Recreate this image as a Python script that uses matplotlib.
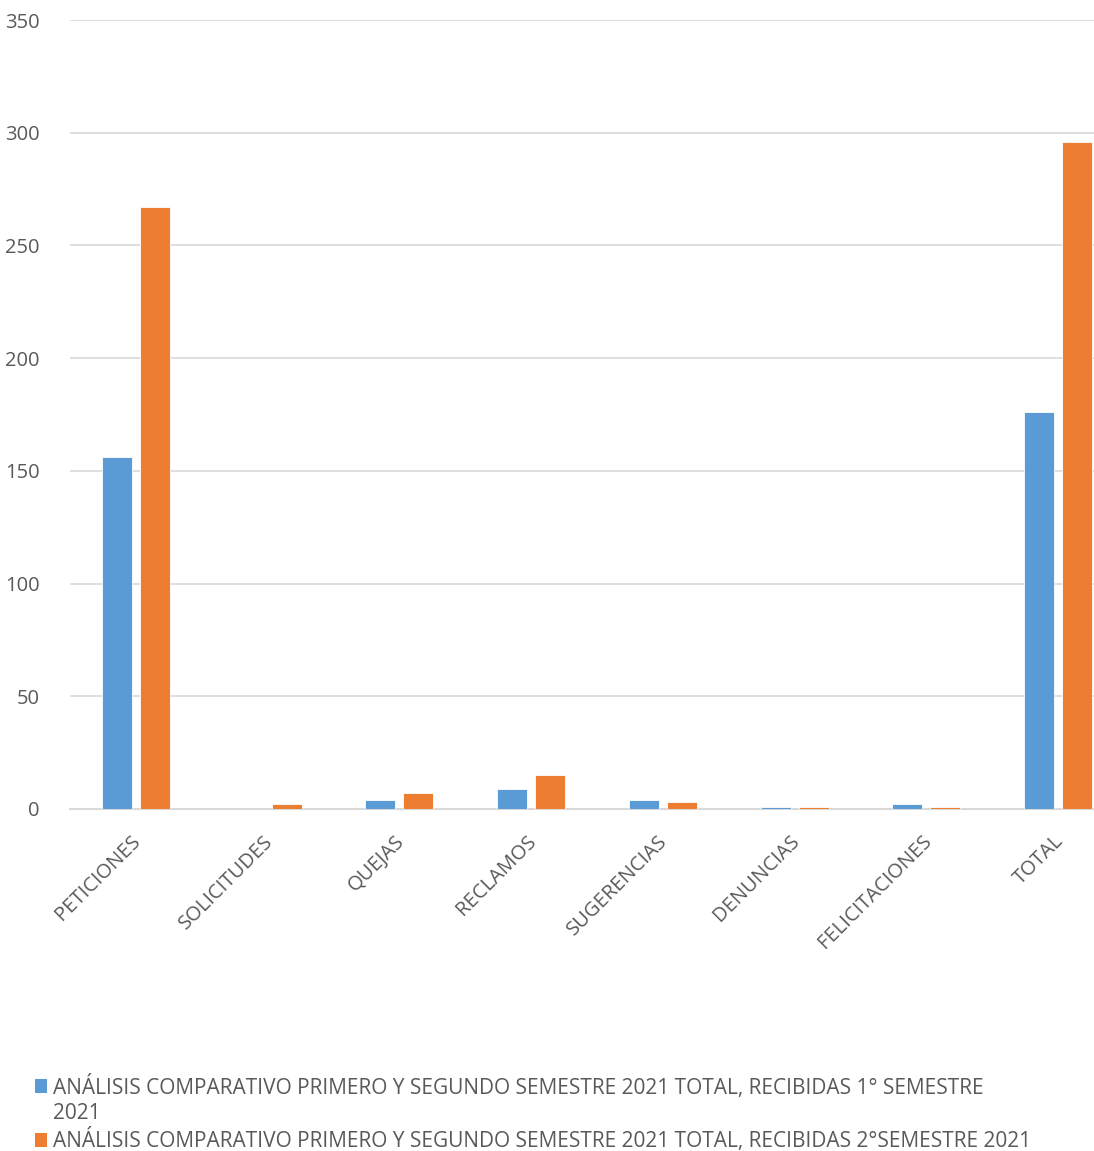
import numpy as np
import matplotlib.pyplot as plt
import matplotlib.transforms as mtransforms
from matplotlib.patches import Patch

categorias = ['PETICIONES', 'SOLICITUDES', 'QUEJAS', 'RECLAMOS', 'SUGERENCIAS',
              'DENUNCIAS', 'FELICITACIONES', 'TOTAL']
primer_semestre = [156, 0, 4, 9, 4, 1, 2, 176]
segundo_semestre = [267, 2, 7, 15, 3, 1, 1, 296]

serie1 = ['ANÁLISIS COMPARATIVO PRIMERO Y SEGUNDO SEMESTRE 2021 TOTAL, RECIBIDAS 1° SEMESTRE', '2021']
serie2 = 'ANÁLISIS COMPARATIVO PRIMERO Y SEGUNDO SEMESTRE 2021 TOTAL, RECIBIDAS 2°SEMESTRE 2021'

azul = '#5B9BD5'
naranja = '#ED7D31'
gris_texto = '#595959'

plt.rcParams['font.family'] = ['Open Sans', 'DejaVu Sans']

W, H = 1094, 1151
fig = plt.figure(figsize=(W / 100, H / 100), dpi=100)
# el area de trazado se sale por la derecha, como en el original
ax = fig.add_axes([70 / W, 1 - 809 / H, 1054 / W, (809 - 20) / H])

x = np.arange(len(categorias))
ancho = 0.228
sep = 0.03
ax.bar(x - ancho / 2 - sep, primer_semestre, ancho, color=azul, edgecolor='white', linewidth=0.6, zorder=3)
ax.bar(x + ancho / 2 + sep, segundo_semestre, ancho, color=naranja, edgecolor='white', linewidth=0.6, zorder=3)

ax.set_xlim(-0.5, len(categorias) - 0.5)
ax.set_ylim(0, 350)
ax.set_yticks(range(0, 351, 50))
ax.yaxis.grid(True, color='#D9D9D9', linewidth=1.2, zorder=0)
ax.set_axisbelow(True)
for s in ['top', 'right', 'left']:
    ax.spines[s].set_visible(False)
ax.spines['bottom'].set_color('#D9D9D9')
ax.spines['bottom'].set_linewidth(1.5)
ax.tick_params(axis='y', length=0, labelsize=14.5, labelcolor=gris_texto, pad=22)
ax.tick_params(axis='x', length=0, labelsize=14.5, labelcolor=gris_texto, pad=16)
ax.set_xticks(x)
ax.set_xticklabels(categorias, rotation=45, ha='right', va='top', rotation_mode='anchor')
desplaz = mtransforms.ScaledTranslation(-5 / 100, 0, fig.dpi_scale_trans)
for lab in ax.get_xticklabels():
    lab.set_transform(lab.get_transform() + desplaz)

# la primera serie ocupa dos lineas; la segunda linea va sin marcador
handles = [Patch(facecolor=azul), Patch(facecolor='none', edgecolor='none'), Patch(facecolor=naranja)]
etiquetas = [serie1[0], serie1[1], serie2]
fig.legend(handles=handles, labels=etiquetas, loc='upper left', bbox_to_anchor=(20 / W, 1 - 1060 / H),
           frameon=False, fontsize=15, labelcolor=gris_texto, handlelength=0.6,
           handleheight=0.65, handletextpad=0.3, labelspacing=0.2, borderpad=0.2)

fig.savefig('out.png', dpi=100)
